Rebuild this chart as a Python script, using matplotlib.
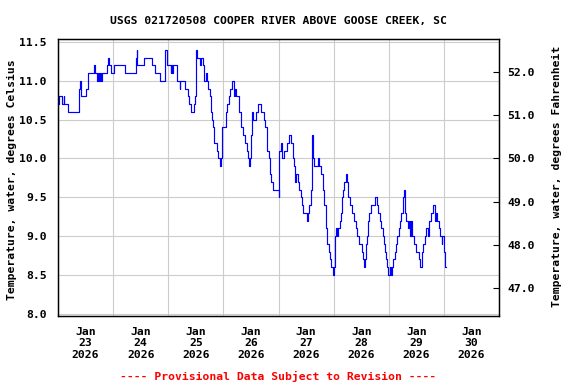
import matplotlib
matplotlib.use('Agg')
import matplotlib.pyplot as plt
from matplotlib.ticker import MultipleLocator, FormatStrFormatter
import pandas as pd

plt.rcParams['font.family'] = 'DejaVu Sans Mono'
plt.rcParams['font.weight'] = 'bold'
plt.rcParams['font.size'] = 8.2

# hours since 2026-01-23 00:00 where the reading steps to a new value
hours = [0.0, 0.4, 1.7, 2.5, 2.8, 4.4, 9.2, 9.6, 9.9, 12.1, 13.1, 15.6, 16.0, 17.0,
         17.5, 17.9, 18.5, 18.8, 19.2, 21.4, 21.8, 22.4, 23.0, 24.4, 29.1, 34.0,
         34.3, 34.6, 37.5, 41.0, 42.2, 44.5, 46.5, 47.3, 47.6, 49.2, 49.4, 49.7,
         49.9, 51.6, 53.1, 53.3, 55.2, 56.4, 57.1, 57.8, 59.3, 59.6, 60.0, 60.4,
         61.7, 62.2, 63.2, 63.6, 64.3, 64.9, 65.3, 66.1, 66.5, 67.1, 67.5, 67.9,
         69.2, 69.8, 70.4, 71.1, 71.6, 73.0, 73.6, 74.3, 75.0, 75.9, 76.5, 77.2,
         77.6, 78.8, 79.8, 80.5, 81.2, 82.2, 82.7, 83.1, 83.5, 84.1, 84.6, 85.0,
         86.3, 87.2, 88.2, 89.5, 90.3, 90.8, 91.2, 91.8, 92.4, 92.9, 93.5, 96.0,
         96.3, 97.2, 97.7, 98.5, 99.9, 100.4, 101.4, 102.1, 102.8, 103.3, 103.6,
         104.7, 105.0, 105.7, 106.2, 106.8, 108.2, 108.8, 109.4, 110.0, 110.4,
         110.7, 111.1, 111.6, 113.3, 113.7, 114.5, 115.2, 115.9, 116.7, 117.2,
         117.9, 118.5, 119.0, 119.9, 120.3, 120.6, 121.0, 121.6, 122.0, 122.6,
         123.2, 123.6, 124.2, 124.7, 125.2, 125.8, 126.4, 127.3, 128.1, 128.9,
         129.6, 130.3, 131.1, 132.2, 132.8, 133.2, 133.6, 134.0, 134.4, 135.0,
         135.6, 136.1, 138.2, 138.8, 139.2, 140.2, 140.7, 141.4, 141.8, 142.3,
         142.8, 143.3, 143.7, 144.4, 144.9, 145.3, 146.0, 146.6, 147.2, 147.8,
         148.4, 148.9, 149.4, 150.0, 150.4, 150.8, 151.1, 151.7, 152.4, 153.0,
         153.3, 153.7, 154.2, 155.1, 155.8, 157.1, 157.7, 158.3, 159.0, 159.9,
         160.4, 161.2, 161.7, 162.3, 163.3, 164.0, 164.7, 165.2, 165.8, 166.4,
         167.0, 167.4, 167.9, 168.3, 168.6, 169.0]
temp_c = [10.7, 10.8, 10.7, 10.8, 10.7, 10.6, 10.9, 11.0, 10.8, 10.9, 11.1, 11.2, 11.1, 11.0,
          11.1, 11.0, 11.1, 11.0, 11.1, 11.2, 11.3, 11.2, 11.1, 11.2, 11.1, 11.3,
          11.4, 11.2, 11.3, 11.2, 11.1, 11.0, 11.4, 11.3, 11.2, 11.1, 11.2, 11.1,
          11.2, 11.0, 10.9, 11.0, 10.9, 10.8, 10.7, 10.6, 10.7, 10.8, 11.4, 11.3,
          11.2, 11.3, 11.2, 11.0, 11.1, 11.0, 10.9, 10.8, 10.6, 10.5, 10.4, 10.2,
          10.1, 10.0, 9.9, 10.0, 10.4, 10.6, 10.7, 10.8, 10.9, 11.0, 10.8, 10.9,
          10.8, 10.6, 10.4, 10.3, 10.2, 10.1, 10.0, 9.9, 10.0, 10.3, 10.6, 10.5,
          10.6, 10.7, 10.6, 10.5, 10.4, 10.3, 10.1, 10.0, 9.8, 9.7, 9.6, 9.5,
          10.1, 10.2, 10.0, 10.1, 10.2, 10.3, 10.2, 10.0, 9.9, 9.7, 9.8,
          9.7, 9.6, 9.5, 9.4, 9.3, 9.2, 9.3, 9.4, 9.6, 10.2,
          10.3, 10.0, 9.9, 10.0, 9.9, 9.8, 9.6, 9.4, 9.1, 8.9,
          8.8, 8.7, 8.6, 8.5, 8.6, 9.0, 9.1, 9.0, 9.1, 9.2,
          9.3, 9.5, 9.6, 9.7, 9.8, 9.7, 9.5, 9.4, 9.3, 9.2,
          9.1, 9.0, 8.9, 8.8, 8.7, 8.6, 8.7, 8.9, 9.0, 9.2,
          9.3, 9.4, 9.5, 9.4, 9.3, 9.2, 9.1, 9.0, 8.9, 8.8,
          8.7, 8.6, 8.5, 8.6, 8.5, 8.6, 8.7, 8.8, 8.9, 9.0,
          9.1, 9.2, 9.3, 9.4, 9.5, 9.6, 9.3, 9.2, 9.1, 9.2,
          9.0, 9.2, 9.0, 8.9, 8.8, 8.7, 8.6, 8.8, 8.9, 9.0,
          9.1, 9.0, 9.2, 9.3, 9.4, 9.2, 9.3, 9.2, 9.1, 9.0,
          8.9, 9.0, 8.8, 8.7, 8.6, 8.6]

day_labels = ['Jan\n23\n2026', 'Jan\n24\n2026', 'Jan\n25\n2026', 'Jan\n26\n2026',
              'Jan\n27\n2026', 'Jan\n28\n2026', 'Jan\n29\n2026', 'Jan\n30\n2026']
f_ticks = [47.0, 48.0, 49.0, 50.0, 51.0, 52.0]

start = pd.Timestamp('2026-01-23 00:00')
times = start + pd.to_timedelta(hours, unit='h')


def c2f(c):
    return c * 1.8 + 32


fig = plt.figure(figsize=(5.76, 3.84), dpi=100)
ax = fig.add_axes([58 / 576, 1 - 316 / 384, 441 / 576, 277 / 384])
ax.plot(times, temp_c, drawstyle='steps-post', color='#0000ff', lw=0.85)

ax.set_xlim(start, start + pd.Timedelta(days=8))
ax.set_ylim(7.97, 11.54)
ax.yaxis.set_major_locator(MultipleLocator(0.5))
ax.yaxis.set_major_formatter(FormatStrFormatter('%.1f'))

ax.set_xticks(pd.date_range('2026-01-23 12:00', periods=8, freq='D'))
ax.set_xticklabels(day_labels, linespacing=1.15)
ax.set_xticks(pd.date_range('2026-01-23', periods=9, freq='D'), minor=True)
ax.tick_params(axis='x', which='both', length=0, pad=8)
ax.tick_params(axis='y', length=0, pad=8)

ax.set_axisbelow(True)
ax.grid(which='minor', axis='x', color='#cccccc', lw=0.8)
ax.grid(which='major', axis='y', color='#cccccc', lw=0.8)
for s in ax.spines.values():
    s.set_linewidth(0.9)

ax2 = ax.twinx()
ax2.set_ylim(c2f(7.97), c2f(11.54))
ax2.set_yticks(f_ticks)
ax2.yaxis.set_major_formatter(FormatStrFormatter('%.1f'))
ax2.tick_params(axis='y', direction='in', length=4, width=0.8, pad=6)
for s in ax2.spines.values():
    s.set_linewidth(0.9)

fig.text(278 / 576, 1 - 21 / 384, 'USGS 021720508 COOPER RIVER ABOVE GOOSE CREEK, SC',
         ha='center', va='center')
fig.text(12 / 576, 1 - 180 / 384, 'Temperature, water, degrees Celsius',
         rotation=90, ha='center', va='center')
fig.text(557 / 576, 1 - 176 / 384, 'Temperature, water, degrees Fahrenheit',
         rotation=90, ha='center', va='center')
fig.text(278 / 576, 1 - 376 / 384, '---- Provisional Data Subject to Revision ----',
         ha='center', va='center', color='red')

fig.savefig('out.png', dpi=100)
